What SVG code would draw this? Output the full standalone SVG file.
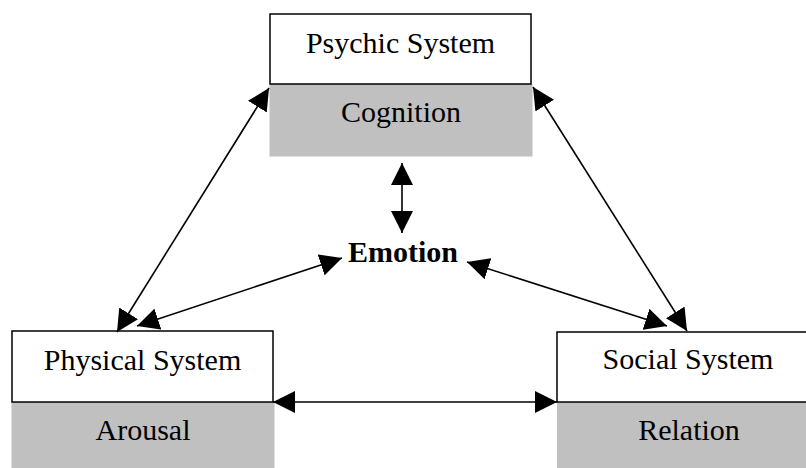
<svg xmlns="http://www.w3.org/2000/svg" width="806" height="468" viewBox="0 0 806 468">
  <style>
    .title { fill: #ffffff; stroke: #000000; stroke-width: 1.5; }
    .sub { fill: #c0c0c0; stroke: none; }
    .lbl { font-family: "Liberation Serif", "Times New Roman", serif; font-size: 30px; fill: #000000; text-anchor: middle; }
    .bold { font-weight: bold; }
    .conn { stroke: #000000; stroke-width: 1.6; fill: none; marker-start: url(#head); marker-end: url(#head); }
  </style>
  <defs>
    <marker id="head" markerUnits="userSpaceOnUse" markerWidth="22" markerHeight="22" viewBox="0 0 22 22" refX="22" refY="11" orient="auto-start-reverse">
      <path d="M0,0 L22,11 L0,22 Z" fill="#000000"/>
    </marker>
  </defs>
  <rect width="806" height="468" fill="#ffffff"/>

  <g id="psychic-system">
    <rect class="sub" x="269.5" y="84" width="263" height="72.5"/>
    <rect class="title" x="270" y="14" width="261" height="70"/>
    <text class="lbl" x="400.5" y="53">Psychic System</text>
    <text class="lbl" x="401" y="122">Cognition</text>
  </g>

  <g id="physical-system">
    <rect class="sub" x="11.5" y="402" width="263" height="66"/>
    <rect class="title" x="12" y="331" width="261" height="71"/>
    <text class="lbl" x="142.5" y="370">Physical System</text>
    <text class="lbl" x="143" y="440">Arousal</text>
  </g>

  <g id="social-system">
    <rect class="sub" x="557" y="402" width="262" height="66"/>
    <rect class="title" x="557" y="332" width="262" height="70"/>
    <text class="lbl" x="688" y="369">Social System</text>
    <text class="lbl" x="689" y="440">Relation</text>
  </g>

  <g id="emotion">
    <text class="lbl bold" x="403" y="262">Emotion</text>
  </g>

  <g id="connectors">
    <line class="conn" x1="269" y1="88" x2="117" y2="332"/>
    <line class="conn" x1="533" y1="87" x2="687" y2="331"/>
    <line class="conn" x1="137" y1="326" x2="342" y2="258"/>
    <line class="conn" x1="467" y1="262" x2="667" y2="326"/>
    <line class="conn" x1="402" y1="163" x2="402" y2="233"/>
    <line class="conn" x1="273" y1="402" x2="557" y2="402"/>
  </g>
</svg>
